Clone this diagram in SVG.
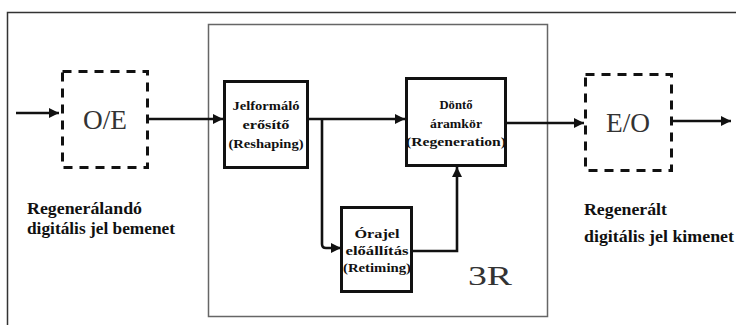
<svg xmlns="http://www.w3.org/2000/svg" width="736" height="325" viewBox="0 0 736 325">
<style>
.box{fill:#fff;stroke:#111;stroke-width:3}
.dash{fill:none;stroke:#111;stroke-width:3;stroke-dasharray:9 7}
.conn{fill:none;stroke:#111;stroke-width:2.6}
.lbl{font-family:'Liberation Serif','DejaVu Serif',serif;font-weight:bold;font-size:13.5px;fill:#111;text-anchor:middle}
.cap{font-family:'Liberation Serif','DejaVu Serif',serif;font-weight:bold;font-size:16px;fill:#111}
.big{font-family:'Liberation Serif','DejaVu Serif',serif;font-size:27px;fill:#333;text-anchor:middle}
</style>
<defs>
<marker id="ah" viewBox="0 0 10 10" refX="10" refY="5" markerWidth="10" markerHeight="10" markerUnits="userSpaceOnUse" orient="auto">
<path d="M0,0 L10,5 L0,10 z" fill="#111"/>
</marker>
</defs>
<rect width="736" height="325" fill="#fff"/>
<g id="frame">
<rect x="7.5" y="12.5" width="740" height="330" fill="none" stroke="#333" stroke-width="1.5"/>
</g>
<g id="box3R">
<rect x="208.5" y="24.5" width="339" height="292" fill="none" stroke="#666" stroke-width="1.5"/>
<text class="big" x="490" y="285" font-size="29" textLength="44" lengthAdjust="spacingAndGlyphs">3R</text>
</g>
<g id="connectors">
<path class="conn" d="M16,113 H59" marker-end="url(#ah)"/>
<path class="conn" d="M148,119 H223" marker-end="url(#ah)"/>
<path class="conn" d="M309,119 H405" marker-end="url(#ah)"/>
<path class="conn" d="M322,119 V244 Q322,248 326,248 H341" marker-end="url(#ah)"/>
<path class="conn" d="M413,251 H457 V167" marker-end="url(#ah)"/>
<path class="conn" d="M507,123 H584" marker-end="url(#ah)"/>
<path class="conn" d="M672,121 H731" marker-end="url(#ah)"/>
</g>
<g id="oe">
<rect class="dash" x="62.5" y="71.5" width="85" height="96"/>
<text class="big" x="105" y="129" textLength="44" lengthAdjust="spacingAndGlyphs">O/E</text>
</g>
<g id="eo">
<rect class="dash" x="585.5" y="74.5" width="86" height="96"/>
<text class="big" x="628" y="132" textLength="44" lengthAdjust="spacingAndGlyphs">E/O</text>
</g>
<g id="jelformalo">
<rect class="box" x="224.5" y="81.5" width="83" height="86"/>
<text class="lbl" x="266" y="110" textLength="67" lengthAdjust="spacingAndGlyphs">Jelformáló</text>
<text class="lbl" x="266" y="129" textLength="47" lengthAdjust="spacingAndGlyphs">erősítő</text>
<text class="lbl" x="266" y="148" textLength="75" lengthAdjust="spacingAndGlyphs">(Reshaping)</text>
</g>
<g id="donto">
<rect class="box" x="406.5" y="78.5" width="99" height="87"/>
<text class="lbl" x="456" y="109" textLength="33" lengthAdjust="spacingAndGlyphs">Döntő</text>
<text class="lbl" x="456" y="128" textLength="52" lengthAdjust="spacingAndGlyphs">áramkör</text>
<text class="lbl" x="456" y="146" textLength="100" lengthAdjust="spacingAndGlyphs">(Regeneration)</text>
</g>
<g id="orajel">
<rect class="box" x="341.5" y="207.5" width="70" height="84"/>
<text class="lbl" x="377" y="238" textLength="45" lengthAdjust="spacingAndGlyphs">Órajel</text>
<text class="lbl" x="377" y="255" textLength="63" lengthAdjust="spacingAndGlyphs">előállítás</text>
<text class="lbl" x="377" y="272" textLength="68" lengthAdjust="spacingAndGlyphs">(Retiming)</text>
</g>
<g id="input-label">
<text class="cap" x="27" y="214" textLength="115" lengthAdjust="spacingAndGlyphs">Regenerálandó</text>
<text class="cap" x="27" y="234" textLength="148" lengthAdjust="spacingAndGlyphs">digitális jel bemenet</text>
</g>
<g id="output-label">
<text class="cap" x="584" y="215" textLength="83" lengthAdjust="spacingAndGlyphs">Regenerált</text>
<text class="cap" x="584" y="242" textLength="150" lengthAdjust="spacingAndGlyphs">digitális jel kimenet</text>
</g>
</svg>
